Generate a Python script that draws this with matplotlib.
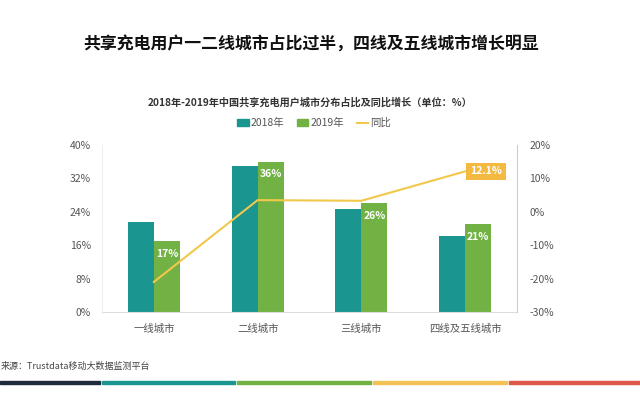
import matplotlib
matplotlib.use("Agg")
import matplotlib.pyplot as plt
from matplotlib.patches import Patch, Rectangle
from matplotlib.lines import Line2D
import numpy as np

plt.rcParams['font.family'] = ['Noto Sans CJK SC', 'DejaVu Sans']

categories = ["一线城市", "二线城市", "三线城市", "四线及五线城市"]
share_2018 = [21.6, 35.0, 24.7, 18.2]
share_2019 = [17, 36, 26, 21]
yoy = [-21.0, 3.5, 3.3, 12.1]
labels_2019 = ["17%", "36%", "26%", "21%"]
left_ticks = [0, 8, 16, 24, 32, 40]
right_ticks = [-30, -20, -10, 0, 10, 20]

teal = '#1a9590'
green = '#72b245'
yellow = '#f2c84b'
box = '#f4b940'
tick_col = '#555555'

fig = plt.figure(figsize=(6.4, 3.97), dpi=100)
ax = fig.add_axes([102/640, 1-312/397, (517-102)/640, (312-145)/397])
x = np.arange(len(categories))
w = 0.25
ax.bar(x - w/2, share_2018, w, color=teal, zorder=2)
ax.bar(x + w/2, share_2019, w, color=green, zorder=2)
for xi, v, lab in zip(x, share_2019, labels_2019):
    ax.text(xi + w/2, v - 3.0, lab, ha='center', va='center', color='white',
            fontsize=7.5, fontweight='bold', zorder=5)
ax.set_xlim(-0.5, 3.5)
ax.set_ylim(0, 40)
ax.set_yticks(left_ticks)
ax.set_yticklabels([f"{t}%" for t in left_ticks])
ax.set_xticks(x)
ax.set_xticklabels(categories)
ax.tick_params(axis='both', length=0, labelsize=7.5, colors=tick_col)
ax.tick_params(axis='x', pad=8)
ax.tick_params(axis='y', pad=8)
for s in ['top', 'right']:
    ax.spines[s].set_visible(False)
ax.spines['left'].set_color('#eeeeee')
ax.spines['bottom'].set_color('#dddddd')

ax2 = ax.twinx()
ax2.plot(x, yoy, color=yellow, lw=1.5, zorder=3)
ax2.set_ylim(-30, 20)
ax2.set_yticks(right_ticks)
ax2.set_yticklabels([f"{t}%" for t in right_ticks])
ax2.tick_params(axis='y', length=0, labelsize=7.5, colors=tick_col, pad=9)
for s in ['top', 'left', 'bottom']:
    ax2.spines[s].set_visible(False)
ax2.spines['right'].set_color('#cccccc')
ax2.annotate("12.1%", xy=(x[3], yoy[3]), xytext=(15, 0), textcoords='offset points',
             ha='center', va='center', color='white', fontsize=7.5, fontweight='bold',
             bbox=dict(boxstyle='square,pad=0.35', fc=box, ec='none'), zorder=6)

fig.text(311/640, 1-45/397, "共享充电用户一二线城市占比过半，四线及五线城市增长明显",
         ha='center', va='center', fontsize=12.2, fontweight='bold', color='#111111')
fig.text(310/640, 1-103/397, "2018年-2019年中国共享充电用户城市分布占比及同比增长（单位：%）",
         ha='center', va='center', fontsize=7.3, fontweight='bold', color='#333333')

handles = [Patch(color=teal), Patch(color=green), Line2D([], [], color=yellow, lw=1.5)]
fig.legend(handles, ["2018年", "2019年", "同比"], loc='center', bbox_to_anchor=(314/640, 1-123/397),
           ncol=3, frameon=False, fontsize=7.5, handlelength=1.1, handleheight=0.6,
           handletextpad=0.2, columnspacing=1.2, labelcolor=tick_col)

fig.text(1/640, 1-366/397, "来源：Trustdata移动大数据监测平台", ha='left', va='center',
         fontsize=6.5, color='#444444')

strips = [(0, 100, '#1f2a3a'), (102, 235, '#1a9590'), (237, 371, '#72b245'),
          (373, 507, '#f2c255'), (509, 640, '#e0574a')]
for x0, x1, c in strips:
    fig.patches.append(Rectangle((x0/640, 1-384/397), (x1-x0)/640, 3/397,
                                 transform=fig.transFigure, color=c, zorder=1))

fig.savefig("out.png", dpi=100, facecolor='white')
